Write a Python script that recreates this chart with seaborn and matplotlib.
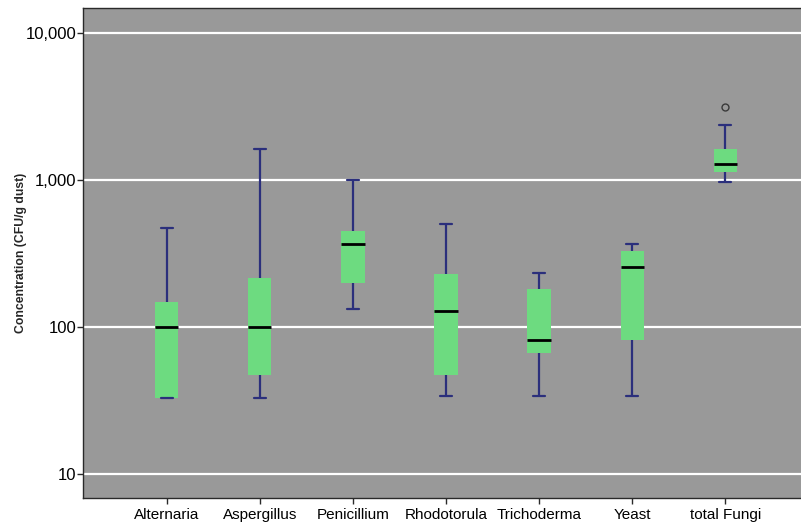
import numpy as np
import pandas as pd
import seaborn as sns
import matplotlib
matplotlib.use("Agg")
import matplotlib.pyplot as plt
from matplotlib.ticker import FixedLocator, FuncFormatter, NullLocator

categories = ["Alternaria", "Aspergillus", "Penicillium", "Rhodotorula",
              "Trichoderma", "Yeast", "total Fungi"]
whisker_low = [33, 33, 133, 34, 34, 34, 970]
q1 = [33, 47, 201, 47, 67, 82, 1132]
median = [100, 100, 366, 129, 82, 258, 1287]
q3 = [149, 215, 447, 230, 181, 330, 1623]
whisker_high = [470, 1634, 1000, 500, 232, 366, 2366]
outliers = [[], [], [], [], [], [], [3140]]
ytick_values = [10, 100, 1000, 10000]

rows = []
for i, c in enumerate(categories):
    vals = [whisker_low[i], q1[i], q1[i], median[i], median[i], q3[i], q3[i], whisker_high[i]] + outliers[i]
    for v in vals:
        rows.append({"category": c, "value": v})
df = pd.DataFrame(rows)

sns.set_style("white")
plt.rcParams['font.family'] = ['Liberation Sans', 'DejaVu Sans']

fig = plt.figure(figsize=(8.01, 5.29), dpi=100)
ax = fig.add_axes([83 / 801, 1 - 498 / 529, 1 - 83 / 801 + 0.01, (498 - 8) / 529])
ax.set_facecolor("#999999")

green = "#6ddb80"
navy = "#2b2f7c"
sns.boxplot(data=df, x="category", y="value", order=categories, ax=ax,
            log_scale=True, width=0.25, saturation=1, color=green,
            boxprops=dict(facecolor=green, edgecolor=green, linewidth=0),
            whiskerprops=dict(color=navy, linewidth=1.6),
            capprops=dict(color=navy, linewidth=1.6),
            medianprops=dict(color="black", linewidth=2.0),
            flierprops=dict(marker="o", markerfacecolor="none",
                            markeredgecolor="#3a3a3a", markersize=5, markeredgewidth=1))

ax.set_yscale("log")
ax.set_ylim(6.9, 14750)
ax.set_xlim(-0.9, 6.9)
ax.yaxis.set_major_locator(FixedLocator(ytick_values))
ax.yaxis.set_minor_locator(NullLocator())
ax.yaxis.set_major_formatter(FuncFormatter(lambda v, p: f"{int(round(v)):,}"))
ax.set_axisbelow(True)
ax.grid(axis="y", which="major", color="white", linewidth=1.6)
ax.grid(axis="x", visible=False)

for s in ["left", "top", "bottom"]:
    ax.spines[s].set_color("#2a2a2a")
    ax.spines[s].set_linewidth(1.0)
ax.spines["right"].set_visible(False)

ax.tick_params(axis="both", which="major", direction="out", length=4, width=1,
               color="#2a2a2a", labelcolor="black")
ax.tick_params(axis="x", bottom=True, labelsize=11, pad=3)
ax.tick_params(axis="y", left=True, labelsize=12, pad=1)
ax.set_xlabel("")
ax.set_ylabel("Concentration (CFU/g dust)", fontsize=8.8, fontweight="bold", labelpad=-1)

fig.savefig("out.png", dpi=100)
